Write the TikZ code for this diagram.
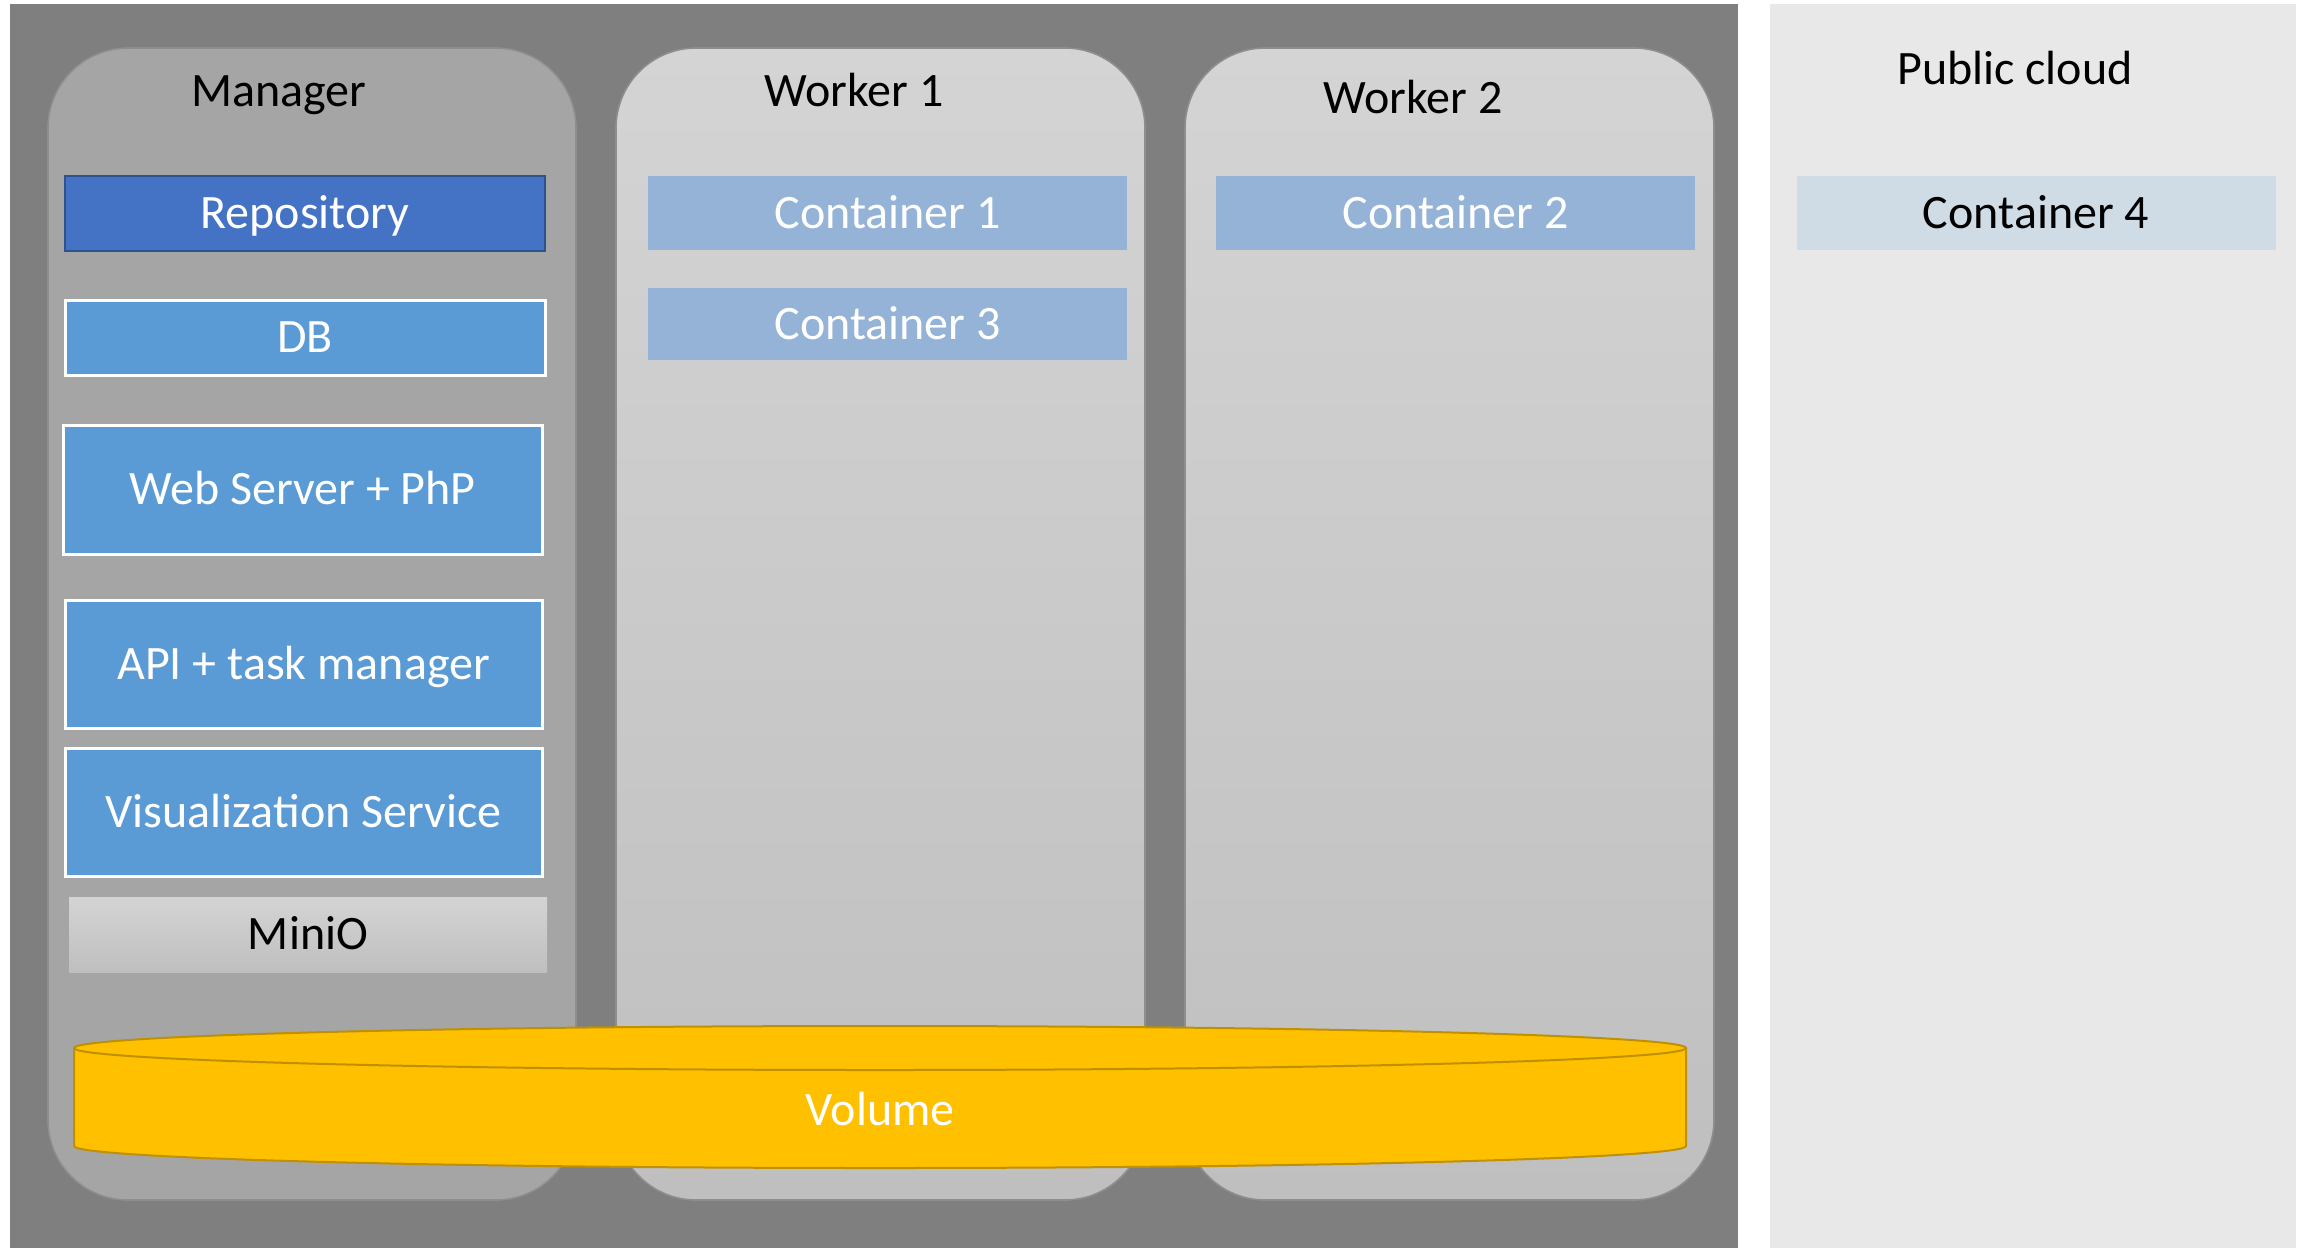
\documentclass[tikz,border=0pt]{standalone}
\usepackage{fontspec}
\setmainfont{Carlito}
\definecolor{clusterbg}{HTML}{7F7F7F}
\definecolor{cloudbg}{HTML}{E8E8E8}
\definecolor{mgrfill}{HTML}{A5A5A5}
\definecolor{mgredge}{HTML}{8E8E8E}
\definecolor{wktop}{HTML}{D4D4D4}
\definecolor{wkbot}{HTML}{BFBFBF}
\definecolor{repofill}{HTML}{4472C4}
\definecolor{repoedge}{HTML}{2F528F}
\definecolor{svcfill}{HTML}{5B9BD5}
\definecolor{ctrfill}{HTML}{95B3D7}
\definecolor{ctrlight}{HTML}{CFDCE6}
\definecolor{volfill}{HTML}{FFC000}
\definecolor{voledge}{HTML}{BF9000}
\begin{document}
\begin{tikzpicture}[x=0.5pt,y=-0.5pt,
  lbl/.style={font=\fontsize{24}{28}\selectfont, inner sep=0pt, text height=15pt, text depth=0pt},
  host/.style={rounded corners=40pt, draw=mgredge, line width=0.8pt},
  box/.style={lbl, minimum width=239.5pt, minimum height=37.5pt},
  svc/.style={box, fill=svcfill, draw=white, line width=1.5pt, text=white},
  tallsvc/.style={svc, minimum height=64pt},
  ctr/.style={box, fill=ctrfill, text=white, minimum height=37pt},
]
\useasboundingbox (0,0) rectangle (2305,1248);
\fill[white] (0,0) rectangle (2305,1248);

% cluster and public cloud areas
\fill[clusterbg] (10,4) rectangle (1738,1248);
\fill[cloudbg] (1770,4) rectangle (2296,1248);

% hosts
\path[host, fill=mgrfill] (48,48) rectangle (576,1200);
\path[host, top color=wktop, bottom color=wkbot] (616,48) rectangle (1145,1200);
\path[host, top color=wktop, bottom color=wkbot] (1185,48) rectangle (1714,1200);

% host titles
\node[lbl] (mgrtitle) at (279,91) {Manager};
\node[lbl] (w1title) at (854,91) {Worker 1};
\node[lbl] (w2title) at (1413,98) {Worker 2};
\node[lbl] (cloudtitle) at (2015,69) {Public cloud};

% manager services
\node[box, fill=repofill, draw=repoedge, line width=1pt, text=white, minimum width=240pt] (repo) at (305,213.5) {Repository};
\node[svc, minimum width=240pt] (db) at (305,337.5) {DB};
\node[tallsvc, minimum width=239.5pt, minimum height=64.5pt] (web) at (302.5,489.5) {Web Server + PhP};
\node[tallsvc, minimum width=238.5pt] (api) at (303.5,664) {API + task manager};
\node[tallsvc, minimum width=238.5pt] (vis) at (303.5,812) {Visualization Service};
\node[box, top color=wktop, bottom color=wkbot, minimum width=239pt] (minio) at (308,934.5) {MiniO};

% containers
\node[ctr] (c1) at (887.5,213) {Container 1};
\node[ctr, minimum height=36pt] (c3) at (887.5,324) {Container 3};
\node[ctr] (c2) at (1455.5,213) {Container 2};
\node[ctr, fill=ctrlight, text=black] (c4) at (2036,213) {Container 4};

% shared volume (flat cylinder)
\path[fill=volfill, draw=voledge, line width=1pt]
  (74,1048) -- (74,1146) arc[start angle=180, end angle=360, x radius=806, y radius=-22]
  -- (1686,1048) arc[start angle=0, end angle=180, x radius=806, y radius=-22] -- cycle;
\draw[voledge, line width=1pt] (74,1048) arc[start angle=180, end angle=360, x radius=806, y radius=-22];
\node[lbl, text=white] (vol) at (880,1110) {Volume};
\end{tikzpicture}
\end{document}
